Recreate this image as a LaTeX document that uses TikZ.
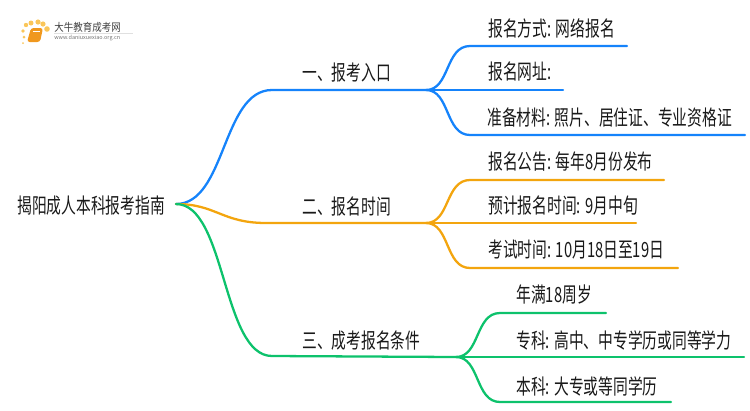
\documentclass[tikz,border=0pt]{standalone}
\usepackage{fontspec}
\setmainfont{Noto Sans CJK SC}
\definecolor{bluebr}{HTML}{1583FB}
\definecolor{orangebr}{HTML}{F3A50E}
\definecolor{greenbr}{HTML}{0DC26C}
\definecolor{bookor}{HTML}{F0981E}
\definecolor{dotor}{HTML}{FAC65A}
\tikzset{
lbl/.style={anchor=west, inner sep=0pt, yscale=1.42, transform shape, text=black!90, font=\fontsize{8.4pt}{10pt}\selectfont},
logotxt/.style={anchor=west, inner sep=0pt, text=black!75},
br/.style={line width=1.3pt, line cap=round},
}
\begin{document}
\begin{tikzpicture}[x=.02cm, y=-.02cm]
\useasboundingbox (0,0) rectangle (750,410);
\coordinate (root) at (176,204);
\coordinate (a) at (272,90);
\coordinate (b) at (266,223);
\coordinate (c) at (272,356);
\coordinate (ar) at (426,90);
\coordinate (br) at (426,223);
\coordinate (cr) at (456,357);
\node[lbl] (rootlbl) at (17,206) {揭阳成人本科报考指南};
\node[lbl] (alabel) at (302,73) {一、报考入口};
\node[lbl] (blabel) at (302,207) {二、报名时间};
\node[lbl] (clabel) at (302,341) {三、成考报名条件};
\node[lbl] (a1lbl) at (488,28) {报名方式: 网络报名};
\node[lbl] (a2lbl) at (488,72) {报名网址:};
\node[lbl] (a3lbl) at (487,118) {准备材料: 照片、居住证、专业资格证};
\node[lbl] (b1lbl) at (488,162) {报名公告: 每年8月份发布};
\node[lbl] (b2lbl) at (488,206) {预计报名时间: 9月中旬};
\node[lbl] (b3lbl) at (488,250) {考试时间: 10月18日至19日};
\node[lbl] (c1lbl) at (516,295) {年满18周岁};
\node[lbl] (c2lbl) at (516,340) {专科: 高中、中专学历或同等学力};
\node[lbl] (c3lbl) at (516,386) {本科: 大专或等同学历};
\draw[br,bluebr] (root) .. controls (226,204) and (222,90) .. (a) -- (ar);
\draw[br,orangebr] (root) .. controls (216,204) and (222,223) .. (b) -- (br);
\draw[br,greenbr] (root) .. controls (226,204) and (222,356) .. (c) -- (cr);
\coordinate (a1) at (470,46);
\coordinate (a1e) at (627,46);
\coordinate (a2e) at (563,90);
\coordinate (a3) at (470,135);
\coordinate (a3e) at (745,135);
\draw[br,bluebr] (ar) .. controls (450,90) and (445,46) .. (a1) -- (a1e);
\draw[br,bluebr] (ar) -- (a2e);
\draw[br,bluebr] (ar) .. controls (450,90) and (445,135) .. (a3) -- (a3e);
\coordinate (b1) at (470,180);
\coordinate (b1e) at (664,180);
\coordinate (b2e) at (636,223);
\coordinate (b3) at (470,268);
\coordinate (b3e) at (678,268);
\draw[br,orangebr] (br) .. controls (450,223) and (445,180) .. (b1) -- (b1e);
\draw[br,orangebr] (br) -- (b2e);
\draw[br,orangebr] (br) .. controls (450,223) and (445,268) .. (b3) -- (b3e);
\coordinate (c1) at (500,313);
\coordinate (c1e) at (606,313);
\coordinate (c2e) at (744,357);
\coordinate (c3) at (500,402);
\coordinate (c3e) at (671,402);
\draw[br,greenbr] (cr) .. controls (480,357) and (475,313) .. (c1) -- (c1e);
\draw[br,greenbr] (cr) -- (c2e);
\draw[br,greenbr] (cr) .. controls (480,357) and (475,402) .. (c3) -- (c3e);
\fill[dotor] (23,43) circle (1) (24,37) circle (1.5) (23,31) circle (1.8) (26,25) circle (2.2)
 (31,23) circle (2.5) (38,22) circle (2.6) (43,24) circle (2.6) (47,29) circle (2.8);
\fill[bookor, rounded corners=1.5pt] (31,28) -- (43,28) -- (40,42) -- (27,42) -- cycle;
\draw[white, line width=.3pt] (33,31) -- (40,31);
\node[logotxt, yscale=1.15, transform shape, font=\fontsize{5.4pt}{6pt}\selectfont] (logotitle) at (54,27.5) {大牛教育成考网};
\node[logotxt, font=\fontsize{3.1pt}{4pt}\selectfont, text=black!55] (logourl) at (54,38.5) {www.daniuxuexiao.org.cn};
\draw[black!12, line width=.3pt] (54,33) -- (133,33);
\end{tikzpicture}
\end{document}
